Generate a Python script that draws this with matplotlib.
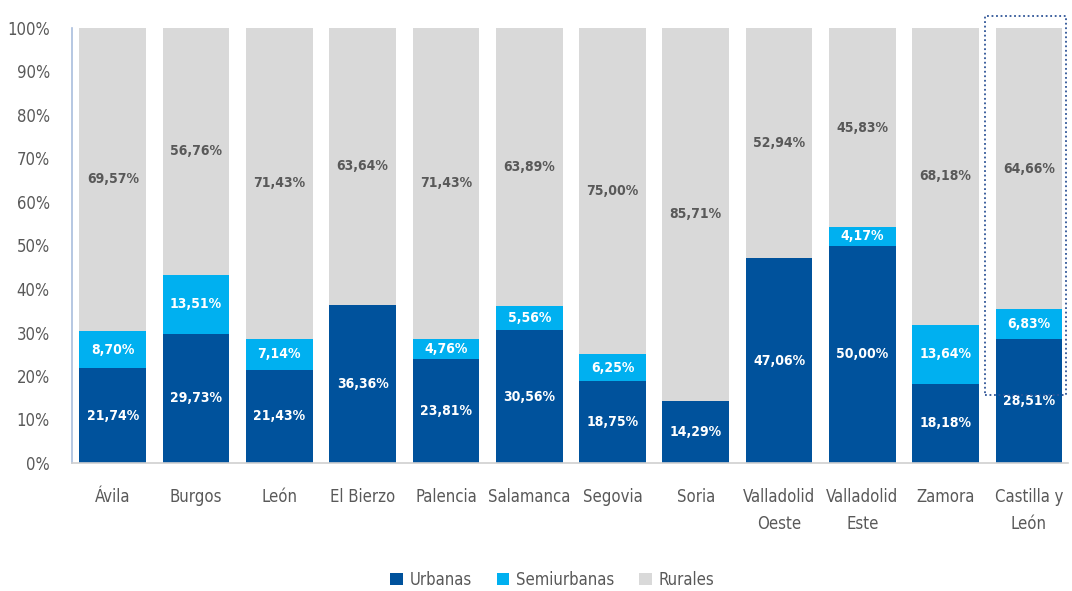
import matplotlib
matplotlib.use("Agg")
import matplotlib.pyplot as plt
from matplotlib.patches import Rectangle
import numpy as np

plt.rcParams['font.family'] = ['DejaVu Sans']
plt.rcParams['font.stretch'] = 'condensed'

categories = ["Ávila", "Burgos", "León", "El Bierzo", "Palencia", "Salamanca",
              "Segovia", "Soria", "Valladolid\nOeste", "Valladolid\nEste", "Zamora",
              "Castilla y\nLeón"]
urbanas = [21.74, 29.73, 21.43, 36.36, 23.81, 30.56, 18.75, 14.29, 47.06, 50.00, 18.18, 28.51]
semiurbanas = [8.70, 13.51, 7.14, 0.0, 4.76, 5.56, 6.25, 0.0, 0.0, 4.17, 13.64, 6.83]
rurales = [69.57, 56.76, 71.43, 63.64, 71.43, 63.89, 75.00, 85.71, 52.94, 45.83, 68.18, 64.66]
series_names = ["Urbanas", "Semiurbanas", "Rurales"]
yticks = [0, 10, 20, 30, 40, 50, 60, 70, 80, 90, 100]

c_urb = "#00529C"
c_semi = "#00B0F0"
c_rur = "#D9D9D9"
txt_gray = "#595959"

fig = plt.figure(figsize=(10.72, 5.91), dpi=100)
ax = fig.add_axes([72/1072, 1-463/591, (1068-72)/1072, (463-28)/591])

x = np.arange(len(categories))
w = 0.80
u = np.array(urbanas); s = np.array(semiurbanas); r = np.array(rurales)
ax.bar(x, u, w, color=c_urb, label=series_names[0], zorder=2)
ax.bar(x, s, w, bottom=u, color=c_semi, label=series_names[1], zorder=2)
ax.bar(x, r, w, bottom=u+s, color=c_rur, label=series_names[2], zorder=2)

def fmt(v):
    return f"{v:.2f}%".replace(".", ",")

fs_val = 10
for i in range(len(categories)):
    ax.text(x[i], u[i]/2, fmt(u[i]), ha='center', va='center', color='white',
            fontsize=fs_val, fontweight='bold', zorder=3)
    if s[i] > 0:
        ax.text(x[i], u[i] + s[i]/2, fmt(s[i]), ha='center', va='center', color='white',
                fontsize=fs_val, fontweight='bold', zorder=3)
    ax.text(x[i], u[i] + s[i] + r[i]/2, fmt(r[i]), ha='center', va='center', color=txt_gray,
            fontsize=fs_val, fontweight='bold', zorder=3)

ax.set_xlim(-0.49, 11.47)
ax.set_ylim(0, 100)
ax.set_yticks(yticks)
ax.set_yticklabels([f"{t}%" for t in yticks], color=txt_gray, fontsize=12)
ax.set_xticks(x)
ax.set_xticklabels(categories, color=txt_gray, fontsize=12, linespacing=1.65)
ax.tick_params(axis='x', length=0, pad=18)
ax.tick_params(axis='y', length=0, pad=16)
for sp in ['top', 'right']:
    ax.spines[sp].set_visible(False)
ax.spines['left'].set_color("#A9BEDD")
ax.spines['left'].set_linewidth(1.2)
ax.spines['bottom'].set_color("#D0D0D0")
ax.spines['bottom'].set_linewidth(1.2)

# dotted highlight box around Castilla y León
rect = Rectangle((10.47, 15.6), 0.98, 87.2, fill=False, edgecolor="#2F5597",
                 linestyle=(0, (1, 1.5)), linewidth=1.3, clip_on=False, zorder=4)
ax.add_patch(rect)

leg = fig.legend(loc='center', bbox_to_anchor=(0.515, 1-580/591), ncol=3, frameon=False,
                 fontsize=12, handlelength=0.75, handleheight=0.75, columnspacing=1.5,
                 handletextpad=0.4)
for t in leg.get_texts():
    t.set_color(txt_gray)

fig.savefig("out.png", dpi=100)
